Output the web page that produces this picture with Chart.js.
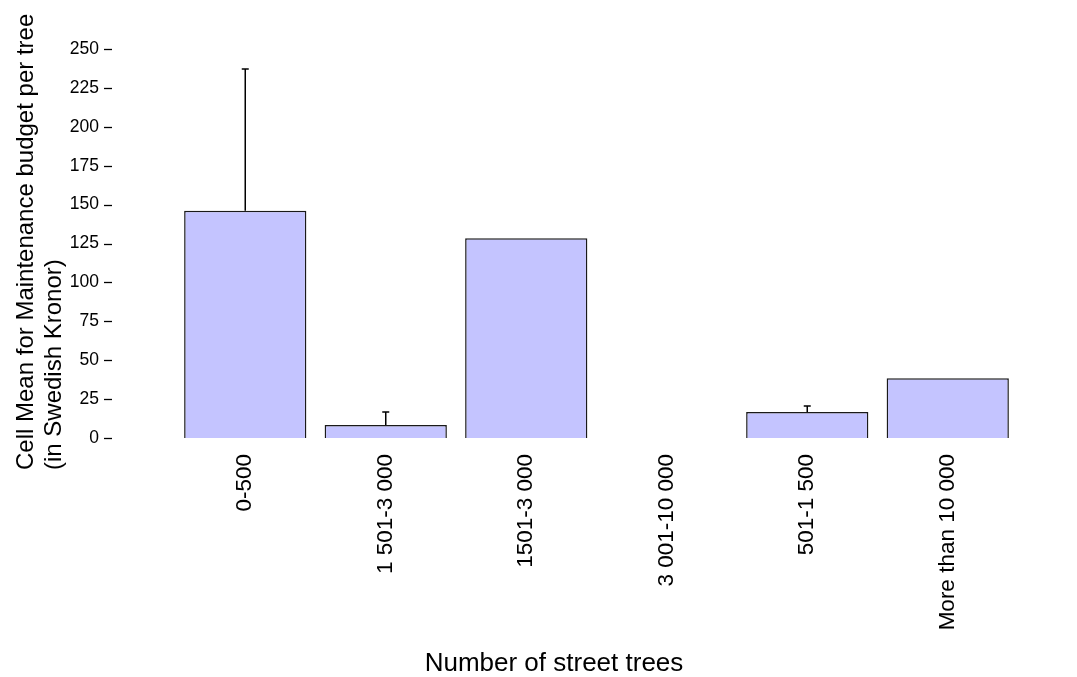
<!DOCTYPE html>
<html>
<head>
<meta charset="utf-8">
<title>Maintenance budget per tree</title>
<script src="https://cdn.jsdelivr.net/npm/chart.js@4.4.1/dist/chart.umd.min.js"></script>
<style>
  html, body { margin: 0; padding: 0; background: #ffffff; }
  #wrap { width: 1077px; height: 677px; }
</style>
</head>
<body>
<div id="wrap"><canvas id="chart" width="1077" height="677"></canvas></div>
<script>
// Number-of-trees groups and the cell means (SEK per tree)
const categories = ['0-500', '1 501-3 000', '1501-3 000', '3 001-10 000', '501-1 500', 'More than 10 000'];
const meanValues = [146.1, 8.4, 128.3, null, 16.7, 38.4];
// Upper error bar length above each mean (null = no error bar)
const errorPlus = [91.0, 8.3, null, null, 3.9, null];
// Value axis ticks
const yTicks = [0, 25, 50, 75, 100, 125, 150, 175, 200, 225, 250];

const FONT = '"Liberation Sans", Arial, Helvetica, sans-serif';
const yTitleLines = ['Cell Mean for Maintenance budget per tree', '(in Swedish Kronor)'];
const xTitle = 'Number of street trees';

// Draws the upward error bars, the y tick marks and both axis titles
const decorations = {
  id: 'decorations',
  afterDatasetsDraw(chart) {
    const ctx = chart.ctx;
    const xs = chart.scales.x;
    const ys = chart.scales.y;
    ctx.save();
    ctx.strokeStyle = '#000000';
    ctx.lineWidth = 1.5;
    meanValues.forEach((v, i) => {
      const e = errorPlus[i];
      if (v === null || e === null) return;
      const x = xs.getPixelForValue(i);
      const y0 = ys.getPixelForValue(v);
      const y1 = ys.getPixelForValue(v + e);
      ctx.beginPath();
      ctx.moveTo(x, y0);
      ctx.lineTo(x, y1);
      ctx.moveTo(x - 3.5, y1);
      ctx.lineTo(x + 3.5, y1);
      ctx.stroke();
    });
    ctx.restore();
  },
  afterDraw(chart) {
    const ctx = chart.ctx;
    const ys = chart.scales.y;
    ctx.save();
    // tick marks
    ctx.strokeStyle = '#000000';
    ctx.lineWidth = 1.3;
    yTicks.forEach(t => {
      const y = Math.round(ys.getPixelForValue(t)) + 0.5;
      ctx.beginPath();
      ctx.moveTo(104, y);
      ctx.lineTo(112, y);
      ctx.stroke();
    });
    // x axis title
    ctx.fillStyle = '#000000';
    ctx.font = '26px ' + FONT;
    ctx.textAlign = 'center';
    ctx.textBaseline = 'alphabetic';
    ctx.fillText(xTitle, 554, 671);
    // y axis title, two lines starting at the same point
    ctx.font = '24px ' + FONT;
    ctx.textAlign = 'left';
    ctx.translate(0, 470);
    ctx.rotate(-Math.PI / 2);
    ctx.fillText(yTitleLines[0], 0, 33);
    ctx.fillText(yTitleLines[1], 0, 61);
    ctx.restore();
  }
};

new Chart(document.getElementById('chart'), {
  type: 'bar',
  data: {
    labels: categories,
    datasets: [{
      data: meanValues,
      backgroundColor: 'rgb(196,196,255)',
      borderColor: '#1a1a1a',
      borderWidth: 1.5,
      borderSkipped: 'bottom',
      categoryPercentage: 1.0,
      barPercentage: 0.87
    }]
  },
  options: {
    responsive: false,
    devicePixelRatio: 1,
    animation: false,
    layout: { padding: { top: 49, right: 59, left: 0, bottom: 0 } },
    plugins: {
      legend: { display: false },
      tooltip: { enabled: false },
      title: { display: false }
    },
    scales: {
      x: {
        grid: { display: false, drawTicks: false },
        border: { display: false },
        ticks: {
          color: '#000000',
          font: { family: FONT, size: 22.5 },
          minRotation: 90,
          maxRotation: 90,
          padding: 16,
          autoSkip: false
        },
        afterFit(scale) { scale.height = 239; }
      },
      y: {
        min: 0,
        max: 250,
        grid: { display: false, drawTicks: false },
        border: { display: false },
        afterBuildTicks(scale) { scale.ticks = yTicks.map(v => ({ value: v })); },
        ticks: {
          color: '#000000',
          font: { family: FONT, size: 17.5 },
          padding: 76
        },
        afterFit(scale) {
          scale.width = 175;
          scale.paddingTop = 0;
          scale.paddingBottom = 0;
        }
      }
    }
  },
  plugins: [decorations]
});
</script>
</body>
</html>
